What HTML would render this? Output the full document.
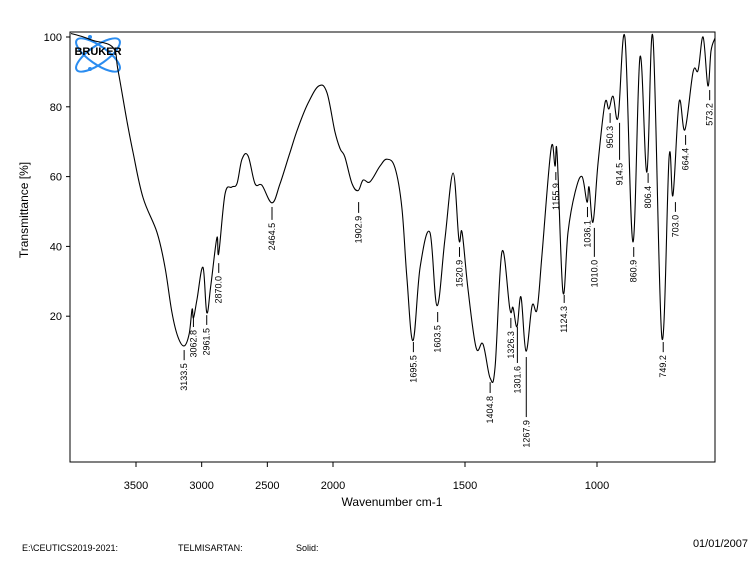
<!DOCTYPE html>
<html><head><meta charset="utf-8"><style>
html,body{margin:0;padding:0;background:#fff;}
svg{display:block;font-family:"Liberation Sans",sans-serif;}
</style></head><body>
<svg id="chart" width="754" height="563" viewBox="0 0 754 563">
<g id="logo">
<ellipse cx="98" cy="55" rx="26" ry="9" transform="rotate(35 98 55)" fill="none" stroke="#2a8cf0" stroke-width="2"/>
<ellipse cx="98" cy="55" rx="26" ry="9" transform="rotate(-35 98 55)" fill="none" stroke="#2a8cf0" stroke-width="2"/>
<circle cx="90" cy="69" r="2" fill="#2a8cf0"/><circle cx="90" cy="37" r="2" fill="#2a8cf0"/>
<text x="98" y="55" text-anchor="middle" font-size="11" font-weight="bold" fill="#000">BRUKER</text>
</g>
<g id="axes"></g>
<g id="plot"></g>
<text x="28" y="210" transform="rotate(-90 28 210)" text-anchor="middle" font-size="12">Transmittance [%]</text>
<text x="392" y="506" text-anchor="middle" font-size="12">Wavenumber cm-1</text>
<text x="22" y="551" font-size="9">E:\CEUTICS2019-2021:</text>
<text x="178" y="551" font-size="9">TELMISARTAN:</text>
<text x="296" y="551" font-size="9">Solid:</text>
<text x="748" y="547" text-anchor="end" font-size="11">01/01/2007</text>
</svg>
<script>
const spectrumWn=[3995,3900,3827,3675,3637,3569,3523,3447,3340,3279,3226,3180,3133,3095,3073,3062,3035,2990,2961,2930,2884,2870,2822,2771,2731,2693,2647,2594,2541,2464,2403,2327,2266,2190,2107,2046,1993,1973,1955,1928,1905,1886,1860,1822,1795,1765,1739,1720,1697,1670,1633,1606,1576,1545,1523,1511,1489,1458,1432,1405,1386,1360,1330,1318,1303,1288,1269,1246,1227,1208,1174,1159,1151,1129,1110,1083,1057,1038,1030,1015,996,970,955,939,920,894,864,837,811,788,754,727,712,689,667,636,617,598,580,568,553];
const spectrumT=[101,100,99,97,90.5,76,67,54,44,34,21,14,11.5,15,22,19.5,25,34,21,29,42.5,38,55,57,58,65,66,58,57.5,52.5,58,67,74,81,86,84,73,68,65.6,58,56,59,58.5,63,65,62.5,51,31,13,34,44,23,42,61,42,44,28,11,12,2.3,5.5,38.5,22,22.5,17,25.5,10,23,22,38,68,63,66.5,27,44,55.5,60,52.7,57,47,64,81,79.4,83,77,99.7,41.3,94.3,61.3,99.7,13.8,65.6,54.7,81.4,73.4,90,90.5,100,86,96,99.7];
const peakLabels=["3133.5","3062.8","2961.5","2870.0","2464.5","1902.9","1695.5","1603.5","1520.9","1404.8","1326.3","1301.6","1267.9","1155.9","1124.3","1036.1","1010.0","950.3","914.5","860.9","806.4","749.2","703.0","664.4","573.2"];
const peakTickTopT=[10.3,19.8,20.3,35.2,51.3,52.7,12.6,21.2,39.8,1.1,19.5,16.9,8.3,61.3,26.1,51.3,45.3,78.2,75.4,39.8,61,12.6,52.7,71.9,84.8];
const peakTickBotT=[7.4,16.9,17.5,32.4,47.6,49.6,9.7,18.3,37,-2,16.6,6.6,-8.9,59,23.8,48.4,37,75.4,64.8,37,58.2,9.7,49.9,69.1,81.9];
const xTicks=[3500,3000,2500,2000,1500,1000];
const yTicks=[20,40,60,80,100];

const L=70,R=715,T0=32,B=462;
function x(w){return w>=2000?333-(w-2000)*0.13133:333+(2000-w)*0.264;}
function y(t){return 37+(100-t)*3.49;}
const NS="http://www.w3.org/2000/svg";
function mk(tag,attrs,parent){const e=document.createElementNS(NS,tag);for(const k in attrs)e.setAttribute(k,attrs[k]);parent.appendChild(e);return e;}
const axes=document.getElementById('axes'),plot=document.getElementById('plot');
const frame=mk('rect',{x:L,y:T0,width:R-L,height:B-T0,fill:'none',stroke:'#000','stroke-width':1},axes);


xTicks.forEach(v=>{
  const px=x(v);
  const t=mk('line',{x1:px,x2:px,y1:B,y2:B+5,stroke:'#000'},axes);
  
  
  const l=mk('text',{x:px,y:B+27,'text-anchor':'middle','font-size':11},axes);
  l.textContent=v;
  
  
});
yTicks.forEach(v=>{
  const py=y(v);
  const t=mk('line',{x1:L-4,x2:L,y1:py,y2:py,stroke:'#000'},axes);
  
  
  const l=mk('text',{x:L-8,y:py+4,'text-anchor':'end','font-size':11},axes);
  l.textContent=v;
  
  
});
const pts=spectrumWn.map((w,i)=>[Math.max(L,Math.min(R,x(w))),y(spectrumT[i])]);
let d='M'+pts[0][0].toFixed(1)+' '+pts[0][1].toFixed(1);
const k=0.18;
for(let i=0;i<pts.length-1;i++){
  const p0=pts[Math.max(0,i-1)],p1=pts[i],p2=pts[i+1],p3=pts[Math.min(pts.length-1,i+2)];
  const c1=[p1[0]+(p2[0]-p0[0])*k,p1[1]+(p2[1]-p0[1])*k];
  const c2=[p2[0]-(p3[0]-p1[0])*k,p2[1]-(p3[1]-p1[1])*k];
  d+='C'+c1[0].toFixed(1)+' '+c1[1].toFixed(1)+' '+c2[0].toFixed(1)+' '+c2[1].toFixed(1)+' '+p2[0].toFixed(1)+' '+p2[1].toFixed(1);
}
const line=mk('path',{d:d,fill:'none',stroke:'#000','stroke-width':1.1,'stroke-linejoin':'round'},plot);


peakLabels.forEach((s,i)=>{
  const w=parseFloat(s),px=x(w),y1=y(peakTickTopT[i]),y2=y(peakTickBotT[i]);
  const t=mk('line',{x1:px,x2:px,y1:y1,y2:y2,stroke:'#000'},plot);
  
  
  const ty=y2+3;
  const l=mk('text',{x:px+3,y:ty,transform:'rotate(-90 '+(px+3)+' '+ty+')','text-anchor':'end','font-size':9},plot);
  l.textContent=s;
  
  
});
</script>
</body></html>
